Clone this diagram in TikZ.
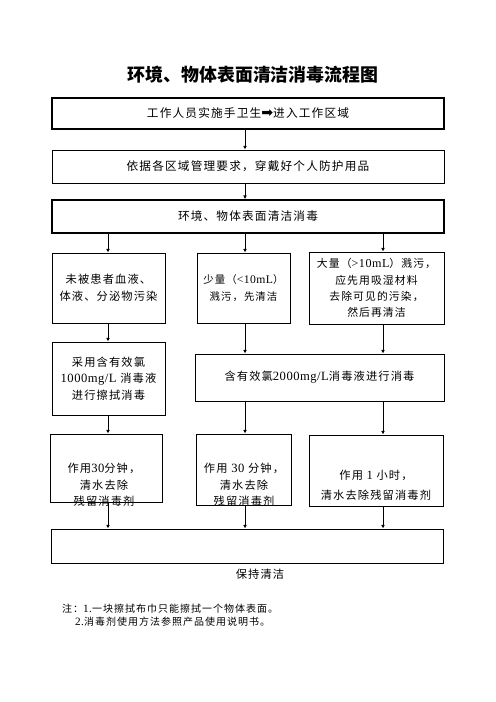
\documentclass[tikz,border=0pt]{standalone}
\usepackage{fontspec}
\setmainfont{Noto Sans CJK SC}[LetterSpace=10]
\newfontfamily\lat{Liberation Serif}[Scale=1.12, LetterSpace=4]
\newfontfamily\sym{DejaVu Sans}
\newfontfamily\heiti{Noto Sans CJK SC}
\usetikzlibrary{arrows.meta}

\tikzset{
  box/.style={draw, line width=1bp, rectangle, inner sep=0pt, align=center,
    font=\fontsize{13.5bp}{20bp}\selectfont},
  thickbox/.style={box, line width=2bp, font=\fontsize{14bp}{20bp}\selectfont},
  txt/.style={align=center, font=\fontsize{13.5bp}{20bp}\selectfont},
  arr/.style={line width=1bp, -{Latex[length=4.5bp,width=4.5bp]}}
}

\begin{document}
\begin{tikzpicture}[x=1.2bp,y=-1.2bp]
\useasboundingbox (0,0) rectangle (496,702);

% title
\node[font=\heiti\bfseries\fontsize{21.5bp}{22bp}\selectfont] (title) at (253,75) {环境、物体表面清洁消毒流程图};

% columns of the arrows
\coordinate (cL) at (108,0);
\coordinate (cM) at (245,0);
\coordinate (cR) at (383,0);

% top row
\node[thickbox, minimum width=392*1.2bp, minimum height=31*1.2bp] (b1) at (248,113.5)
  {工作人员实施手卫生{\sym\fontsize{17bp}{17bp}\selectfont ➡}进入工作区域};
\node[box, font=\fontsize{14bp}{20bp}\selectfont, minimum width=392*1.2bp, minimum height=33*1.2bp] (b2) at (248,166.5)
  {依据各区域管理要求，穿戴好个人防护用品};
\node[thickbox, minimum width=392*1.2bp, minimum height=33*1.2bp] (b3) at (248,216.5)
  {环境、物体表面清洁消毒};

% three cases
\node[box, minimum width=113*1.2bp, minimum height=70*1.2bp] (b4) at (108.5,288)
  {未被患者血液、\\体液、分泌物污染};
\node[box, font=\fontsize{12.5bp}{20bp}\selectfont, minimum width=93*1.2bp, minimum height=70*1.2bp] (b5) at (243.5,288)
  {少量（{\lat <10mL}）\\溅污，先清洁};
\node[box, font=\fontsize{13bp}{19.5bp}\selectfont, minimum width=135*1.2bp, minimum height=72*1.2bp] (b6) at (376.5,288)
  {大量（{\lat >10mL}）溅污，\\应先用吸湿材料\\去除可见的污染，\\然后再清洁};

% disinfection
\node[box, minimum width=113*1.2bp, minimum height=73*1.2bp] (b7) at (108.5,378.5)
  {采用含有效氯\\{\lat 1000mg/L} 消毒液\\进行擦拭消毒};
\node[box, minimum width=249*1.2bp, minimum height=47*1.2bp] (b8) at (319.5,377.5)
  {含有效氯{\lat 2000mg/L}消毒液进行消毒};

% rinsing
\node[box, minimum width=112*1.2bp, minimum height=68*1.2bp] (b9) at (106,468) {};
\node[box, minimum width=95*1.2bp, minimum height=71*1.2bp] (b10) at (243.5,469.5) {};
\node[box, minimum width=134*1.2bp, minimum height=71*1.2bp] (b11) at (376,470.5) {};
\node[txt] (t9) at (104,485)
  {作用{\lat 30}分钟，\\清水去除\\残留消毒剂};
\node[txt] (t10) at (244,485)
  {作用 {\lat 30} 分钟，\\清水去除\\残留消毒剂};
\node[txt] (t11) at (376,485)
  {作用 {\lat 1} 小时，\\[4bp]清水去除残留消毒剂};

% bottom
\node[box, minimum width=392*1.2bp, minimum height=34*1.2bp] (b12) at (247,546) {};
\node[txt] (keep) at (260,574) {保持清洁};

% arrows
\draw[arr] (b1.south -| cM) -- (b2.north -| cM);
\draw[arr] (b2.south -| cM) -- (b3.north -| cM);
\foreach \a/\b/\c in {b3/b4/cL, b3/b5/cM, b3/b6/cR, b4/b7/cL, b5/b8/cM, b6/b8/cR,
                      b7/b9/cL, b8/b10/cM, b8/b11/cR, b9/b12/cL, b10/b12/cM, b11/b12/cR}
  \draw[arr] (\a.south -| \c) -- (\b.north -| \c);

% notes
\node[anchor=west, inner sep=0pt, font=\fontsize{12bp}{13bp}\selectfont] (n1) at (62,609)
  {注：{\lat 1.}一块擦拭布巾只能擦拭一个物体表面。};
\node[anchor=west, inner sep=0pt, font=\fontsize{12bp}{13bp}\selectfont] (n2) at (75,622)
  {{\lat 2.}消毒剂使用方法参照产品使用说明书。};
\end{tikzpicture}
\end{document}
